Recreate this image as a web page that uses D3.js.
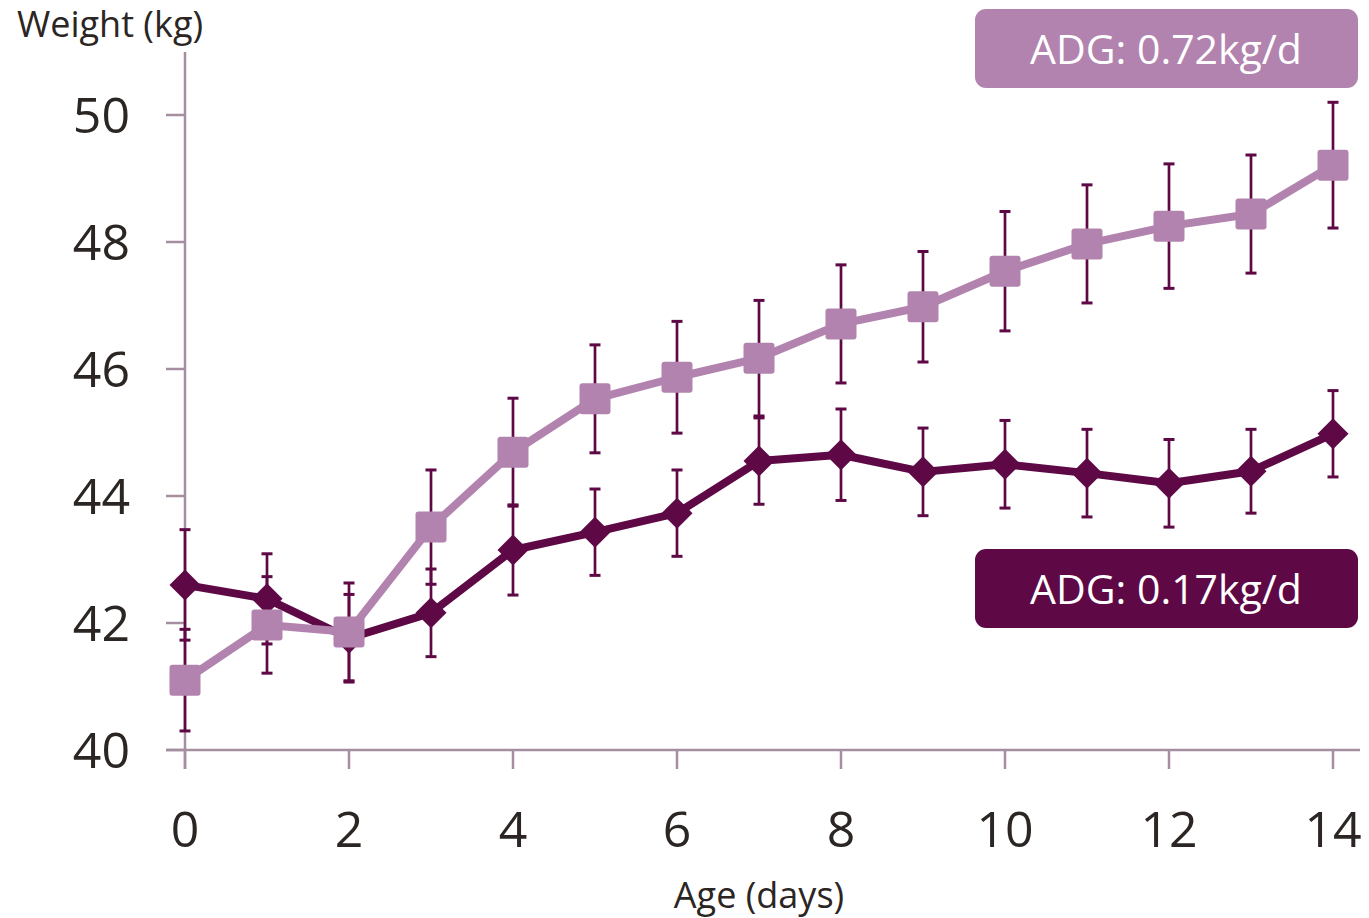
<!DOCTYPE html>
<html>
<head>
<meta charset="utf-8">
<script src="https://d3js.org/d3.v7.min.js"></script>
<style>
  html, body { margin: 0; padding: 0; background: #fff; }
  svg { display: block; font-family: "Open Sans", "Noto Sans", sans-serif; }
</style>
</head>
<body>
<svg id="chart" width="1369" height="918"></svg>
<script>
// ---- data ----
const days = [0, 1, 2, 3, 4, 5, 6, 7, 8, 9, 10, 11, 12, 13, 14];
const highValues = [41.10, 41.97, 41.86, 43.51, 44.69, 45.53, 45.87, 46.17, 46.71, 46.98, 47.54, 47.97, 48.25, 48.44, 49.21];
const highErrors = [0.80, 0.76, 0.77, 0.90, 0.85, 0.85, 0.88, 0.91, 0.93, 0.87, 0.94, 0.93, 0.98, 0.93, 0.99];
const lowValues = [42.60, 42.38, 41.76, 42.16, 43.15, 43.43, 43.73, 44.55, 44.65, 44.38, 44.50, 44.36, 44.20, 44.39, 44.98];
const lowErrors = [0.87, 0.71, 0.69, 0.69, 0.71, 0.68, 0.68, 0.68, 0.72, 0.69, 0.69, 0.69, 0.69, 0.66, 0.68];
const xTicks = [0, 2, 4, 6, 8, 10, 12, 14];
const yTicks = [40, 42, 44, 46, 48, 50];
const highLabel = "ADG: 0.72kg/d";
const lowLabel = "ADG: 0.17kg/d";
const yTitle = "Weight (kg)";
const xTitle = "Age (days)";

const lightC = "#b283ae";
const darkC = "#5e0946";
const axisC = "#a58e9f";
const textC = "#2b2623";

const svg = d3.select("#chart");
const x = d3.scaleLinear().domain([0, 14]).range([185, 1333]);
const y = d3.scaleLinear().domain([40, 50]).range([750, 115]);

// axes lines
svg.append("line").attr("x1", 166).attr("x2", 1360).attr("y1", y(40)).attr("y2", y(40))
  .attr("stroke", axisC).attr("stroke-width", 2.5);
svg.append("line").attr("x1", x(0)).attr("x2", x(0)).attr("y1", 52).attr("y2", 769)
  .attr("stroke", axisC).attr("stroke-width", 2.5);

// x ticks
const xg = svg.append("g");
xTicks.forEach(t => {
  xg.append("line").attr("x1", x(t)).attr("x2", x(t)).attr("y1", y(40)).attr("y2", 769)
    .attr("stroke", axisC).attr("stroke-width", 2.5);
  xg.append("text").attr("x", x(t)).attr("y", 847).attr("text-anchor", "middle")
    .attr("font-size", 50).attr("fill", textC).text(t);
});
// y ticks
const yg = svg.append("g");
yTicks.forEach(t => {
  yg.append("line").attr("x1", 166).attr("x2", x(0)).attr("y1", y(t)).attr("y2", y(t))
    .attr("stroke", axisC).attr("stroke-width", 2.5);
  yg.append("text").attr("x", 130).attr("y", y(t) + 18).attr("text-anchor", "end")
    .attr("font-size", 50).attr("fill", textC).text(t);
});

// titles
svg.append("text").attr("x", 17).attr("y", 37).attr("font-size", 36).attr("fill", textC).text(yTitle);
svg.append("text").attr("x", 759).attr("y", 908).attr("text-anchor", "middle")
  .attr("font-size", 36).attr("fill", textC).text(xTitle);

// error bars (behind)
function errorBars(vals, errs) {
  const g = svg.append("g").attr("stroke", darkC).attr("stroke-width", 2.7);
  days.forEach((d, i) => {
    const cx = x(d), top = y(vals[i] + errs[i]), bot = y(vals[i] - errs[i]);
    g.append("line").attr("x1", cx).attr("x2", cx).attr("y1", top).attr("y2", bot);
    g.append("line").attr("x1", cx - 5.5).attr("x2", cx + 5.5).attr("y1", top).attr("y2", top).attr("stroke-width", 3);
    g.append("line").attr("x1", cx - 5.5).attr("x2", cx + 5.5).attr("y1", bot).attr("y2", bot).attr("stroke-width", 3);
  });
}
errorBars(highValues, highErrors);
errorBars(lowValues, lowErrors);

const line = d3.line().x((d, i) => x(days[i])).y(d => y(d));

// dark series
svg.append("path").datum(lowValues).attr("d", line).attr("fill", "none")
  .attr("stroke", darkC).attr("stroke-width", 8).attr("stroke-linejoin", "round");
svg.append("g").selectAll("path").data(lowValues).join("path")
  .attr("d", (d, i) => {
    const cx = x(days[i]), cy = y(d), r = 15.5;
    return `M${cx},${cy - r}L${cx + r},${cy}L${cx},${cy + r}L${cx - r},${cy}Z`;
  })
  .attr("fill", darkC);

// light series
svg.append("path").datum(highValues).attr("d", line).attr("fill", "none")
  .attr("stroke", lightC).attr("stroke-width", 8).attr("stroke-linejoin", "round");
svg.append("g").selectAll("rect").data(highValues).join("rect")
  .attr("x", (d, i) => x(days[i]) - 15.5).attr("y", d => y(d) - 15.5)
  .attr("width", 31).attr("height", 31).attr("rx", 3)
  .attr("fill", lightC);

// label boxes
function labelBox(y0, color, text) {
  svg.append("rect").attr("x", 975).attr("y", y0).attr("width", 383).attr("height", 79)
    .attr("rx", 11).attr("fill", color);
  svg.append("text").attr("x", 1166).attr("y", y0 + 55).attr("text-anchor", "middle")
    .attr("font-size", 41).attr("fill", "#fff").text(text);
}
labelBox(9, lightC, highLabel);
labelBox(549, darkC, lowLabel);
</script>
</body>
</html>
